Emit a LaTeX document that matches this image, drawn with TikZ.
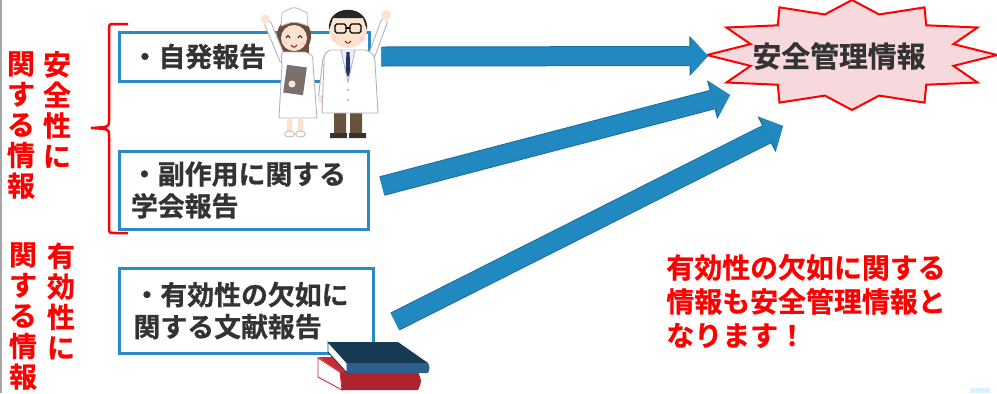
\documentclass[tikz,border=0pt]{standalone}
\usepackage{fontspec}
\setmainfont{Noto Sans CJK JP Bold}[FakeBold=0.8]
\usetikzlibrary{arrows.meta, positioning}

\definecolor{frameblue}{HTML}{2B8BC6}
\definecolor{arrowblue}{HTML}{2189C0}
\definecolor{arrowedge}{HTML}{1C6F9C}
\definecolor{alertred}{HTML}{FF0000}
\definecolor{inkgray}{HTML}{333333}
\definecolor{burstpink}{HTML}{F7D8DD}
\definecolor{skin}{HTML}{FCE3CF}
\definecolor{hairbrown}{HTML}{6E4B3A}
\definecolor{navybook}{HTML}{173A55}
\definecolor{bluespine}{HTML}{2D5F8E}
\definecolor{redbook}{HTML}{CC2B35}
\definecolor{tienavy}{HTML}{1F3570}
\definecolor{boardgray}{HTML}{7A716D}

\begin{document}
\begin{tikzpicture}[
    x=0.02cm, y=-0.02cm,
    report/.style={rectangle, draw=frameblue, line width=0.06cm, fill=white, text width=4.52cm, inner xsep=0pt, align=left, text=inkgray, font={\fontsize{15.3}{18.2}\selectfont}},
    vlabel/.style={text=alertred, align=center, inner sep=0pt, font={\fontsize{15.9}{17.4}\selectfont}},
    note/.style={text=alertred, align=left, inner sep=0pt, font={\fontsize{15.9}{19.3}\selectfont}},
    burst/.style={draw=alertred, fill=burstpink, line width=0.04cm, line join=miter},
    bigarrow/.style={draw=arrowblue, line width=0.36cm, -{Triangle[length=0.34cm, width=0.74cm, line width=0pt]},
        preaction={draw=arrowedge, line width=0.40cm, -{Triangle[length=0.37cm, width=0.80cm, line width=0pt]}}},
    limb/.style={line width=0.15cm, line cap=round, draw=gray!60},
    sleeve/.style={line width=0.11cm, line cap=round, draw=white}
]
\useasboundingbox (0,0) rectangle (997,393);
\fill[white] (0,0) rectangle (997,393);
\draw[gray!70, line width=0.03cm] (1,0) -- (1,393);

% vertical headings on the left
\node[vlabel] (safeA) at (57,109.5) {安\\全\\性\\に};
\node[vlabel] (safeB) at (21,125) {関\\す\\る\\情\\報};
\node[vlabel] (effA) at (61,301) {有\\効\\性\\に};
\node[vlabel] (effB) at (23,316) {関\\す\\る\\情\\報};

% brace for the safety group
\draw[alertred, line width=0.05cm] (128,24) -- (115,24) .. controls (109,24) .. (109,30) -- (109,121)
    .. controls (109,127) .. (91,128) .. controls (109,129) .. (109,135) -- (109,227)
    .. controls (109,233) .. (115,233) -- (128,233);

% report boxes
\node[report, minimum width=5.02cm, minimum height=0.98cm] (spont) at (244.5,56.5) {・自発報告};
\node[report, minimum width=5.0cm, minimum height=1.56cm] (conf) at (244,190) {・副作用に関する\\学会報告};
\node[report, minimum width=5.1cm, minimum height=1.70cm] (lit) at (246.5,310.5) {・有効性の欠如に\\関する文献報告};

% nurse
\fill[hairbrown] (294,36) ellipse (17 and 19);
\fill[hairbrown] (279,38) rectangle (309,57);
\draw[limb] (283,60) -- (268,24);
\draw[sleeve] (283,60) -- (268,24);
\fill[skin] (265,19) circle (4.5);
\filldraw[fill=white, draw=gray!60, line width=0.5pt] (283,52) -- (305,52) .. controls (313,55) .. (313,64)
    -- (317,118) -- (279,118) -- (282,64) .. controls (281,56) .. (283,52) -- cycle;
\fill[boardgray, rotate around={-8:(295,80)}] (285,66) rectangle (305,94);
\fill[skin] (292,84) circle (3.5);
\fill[skin] (294,38) circle (13);
\filldraw[fill=white, draw=gray!50, line width=0.5pt] (281,26) -- (282,13) .. controls (294,6) .. (307,13)
    -- (308,26) .. controls (294,21) .. (281,26) -- cycle;
\draw[black, line width=0.5pt] (286,38) .. controls (288,35) .. (290,38) (298,38) .. controls (300,35) .. (302,38);
\fill[pink!70] (285,43) circle (2.5) (303,43) circle (2.5);
\draw[red!60!black, line width=0.5pt] (291,45) .. controls (294,48) .. (297,45);
\fill[skin] (287,118) rectangle (292,131) (298,118) rectangle (303,131);
\filldraw[fill=white, draw=gray!50, line width=0.5pt] (289.5,134) ellipse (5 and 3) (300.5,134) ellipse (5 and 3);

% doctor
\fill[brown!40!black!85] (334,112) rectangle (346,134) (350,112) rectangle (362,134);
\fill[black!80] (330,133) rectangle (347,138) (349,133) rectangle (366,138);
\draw[limb] (370,60) -- (384,22);
\draw[sleeve] (370,60) -- (384,22);
\fill[skin] (386,15) circle (5);
\draw[limb] (326,60) -- (322,95);
\draw[sleeve] (326,60) -- (322,95);
\fill[skin] (322,99) circle (4);
\filldraw[fill=white, draw=gray!60, line width=0.5pt] (330,50) -- (366,50) .. controls (374,54) .. (375,62)
    -- (378,113) -- (322,113) -- (324,62) .. controls (324,54) .. (330,50) -- cycle;
\fill[blue!8] (341,50) -- (355,50) -- (348,68) -- cycle;
\fill[tienavy] (346.5,52) -- (349.5,52) -- (350.5,72) -- (348,77) -- (345.5,72) -- cycle;
\draw[gray!60, line width=0.5pt] (341,50) -- (348,82) -- (355,50);
\fill[gray!50] (348,90) circle (1.3) (348,100) circle (1.3);
\fill[skin] (348,29) circle (19);
\fill[black!85] (329,30) .. controls (326,3) and (370,3) .. (367,30) -- (363,18) -- (333,18) -- cycle;
\draw[black, line width=0.7pt, rounded corners=1pt] (335,24) rectangle (346,33) (350,24) rectangle (361,33);
\draw[black, line width=0.7pt] (346,28) -- (350,28);
\fill[pink!70] (334,39) circle (2.5) (362,39) circle (2.5);
\draw[red!60!black, line width=0.5pt] (345,41) .. controls (348,44) .. (351,41);

% books
\fill[redbook] (318,357) -- (396,357) -- (418,372) -- (340,372) -- cycle;
\fill[redbook!85!black] (340,372) -- (418,372) .. controls (422,381) .. (418,390) -- (342,390) -- cycle;
\filldraw[fill=white, draw=redbook, line width=0.5pt] (318,358) -- (340,372) -- (342,390) -- (318,377) -- cycle;
\fill[navybook] (328,342) -- (398,342) -- (428,363) -- (347,363) -- cycle;
\fill[bluespine] (347,363) -- (428,363) .. controls (430,368) .. (428,373) -- (347,373) -- cycle;
\filldraw[fill=white, draw=navybook, line width=0.5pt] (328,342) -- (347,363) -- (347,373) -- (328,352) -- cycle;

% safety management burst
\draw[burst, shift={(852,55)}] (0:145 and 55) \foreach \a in {0,30,...,330} { -- (\a:145 and 55) -- (\a+15:105 and 42) } -- cycle;
\node[text=inkgray, inner sep=0pt, font={\fontsize{16.4}{19}\selectfont}] (info) at (839,56) {安全管理情報};

% arrows into the burst
\coordinate (tip1) at (708,56);
\coordinate (tip2) at (730,95);
\coordinate (tip3) at (783,126);
\draw[bigarrow] ([xshift=0.2cm]spont.east) -- (tip1);
\draw[bigarrow] ([shift={(11.5,-4)}]conf.east) -- (tip2);
\draw[bigarrow] ([shift={(19.5,11)}]lit.east) -- (tip3);

\node[note, anchor=west] (remark) at (666,301) {有効性の欠如に関する\\情報も安全管理情報と\\なります！};

\fill[cyan!15] (970,388) rectangle (990,393);
\end{tikzpicture}
\end{document}
